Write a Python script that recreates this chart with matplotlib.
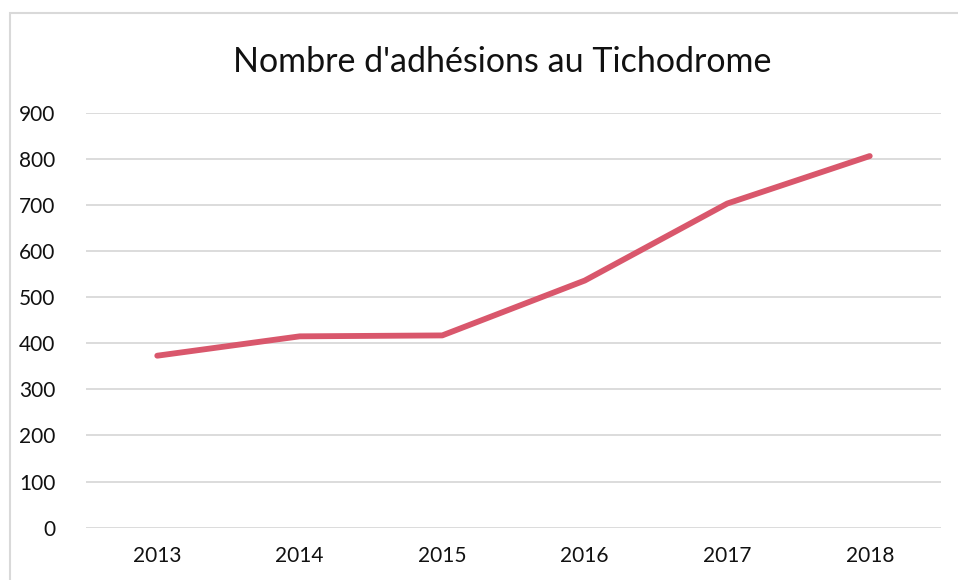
import matplotlib
matplotlib.use("Agg")
from matplotlib import pyplot as plt
from matplotlib.patches import Rectangle

years = ["2013", "2014", "2015", "2016", "2017", "2018"]
adhesions = [373, 415, 417, 536, 703, 806]
y_ticks = [0, 100, 200, 300, 400, 500, 600, 700, 800, 900]

plt.rcParams["font.family"] = ["Lato", "DejaVu Sans"]

fig = plt.figure(figsize=(9.58, 5.8), dpi=100)
# chart frame, cut off at right and bottom like the screenshot
fig.patches.append(Rectangle((10 / 958, -0.1), 1.2, 1 - 13 / 580 + 0.1,
                             transform=fig.transFigure, fill=False,
                             edgecolor="#d9d9d9", linewidth=1.5))

ax = fig.add_axes([86 / 958, 1 - 527.7 / 580, (941 - 86) / 958, (527.7 - 112.7) / 580])
x = range(len(years))
ax.plot(x, adhesions, color="#d9576c", linewidth=4.2, solid_capstyle="round",
        solid_joinstyle="round", zorder=3)

ax.set_xlim(-0.5, len(years) - 0.5)
ax.set_ylim(0, 900)
ax.set_yticks(y_ticks)
ax.set_xticks(list(x))
ax.set_xticklabels(years)
ax.grid(axis="y", color="#d9d9d9", linewidth=1.3)
ax.set_axisbelow(True)
for s in ax.spines.values():
    s.set_visible(False)
ax.tick_params(length=0, labelsize=15, colors="#111111")
ax.tick_params(axis="y", pad=22)
ax.tick_params(axis="x", pad=13)

fig.text(502 / 958, 1 - 62 / 580, "Nombre d'adhésions au Tichodrome",
         ha="center", va="center", fontsize=24.5, color="#111111")

fig.savefig("out.png", dpi=100)
